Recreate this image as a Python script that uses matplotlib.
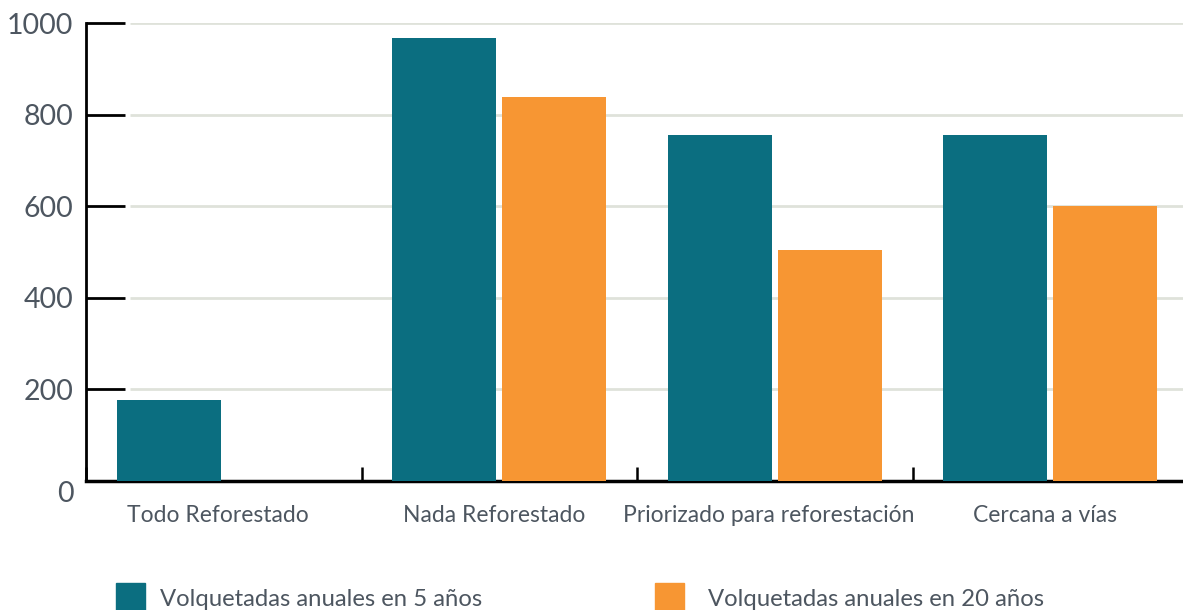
import numpy as np
import matplotlib.pyplot as plt
import matplotlib.transforms as mtransforms
from matplotlib.patches import Rectangle

categorias = ["Todo Reforestado", "Nada Reforestado",
              "Priorizado para reforestación", "Cercana a vías"]
anual_5 = [177, 967, 755, 755]
anual_20 = [0, 838, 504, 600]
serie_nombres = ["Volquetadas anuales en 5 años", "Volquetadas anuales en 20 años"]
yticks = [0, 200, 400, 600, 800, 1000]

c_teal = "#0b6e80"
c_orange = "#f79633"
c_text = "#4d5660"

plt.rcParams['font.family'] = ['Lato', 'DejaVu Sans']

W, H = 1183, 610
fig = plt.figure(figsize=(W / 100, H / 100), dpi=100)
# eje: borde izquierdo en x=86, base en y=481, tope en y=23
ax = fig.add_axes([86 / W, (H - 481) / H, 4 * 275.5 / W, (481 - 23) / H])

x = np.arange(len(categorias))
w = 0.378
gap = 0.011
ax.bar(x + 0.5 - gap - w / 2, anual_5, w, color=c_teal, zorder=3)
ax.bar(x + 0.5 + gap + w / 2, anual_20, w, color=c_orange, zorder=3)

ax.set_xlim(0, len(categorias))
ax.set_ylim(0, 1000)

for v in yticks[1:]:
    ax.hlines(v, 0.16, len(categorias), color="#dfe2da", lw=2, zorder=1)

ax.set_yticks(yticks)
ax.set_yticklabels([str(v) for v in yticks], fontsize=20.5, color=c_text)
ax.tick_params(axis="y", direction="in", length=28, width=2, pad=9, colors="black", labelcolor=c_text)
# el "0" va un poco mas abajo en el original
lbl0 = ax.get_yticklabels()[0]
lbl0.set_transform(lbl0.get_transform() + mtransforms.ScaledTranslation(0, -10 / 100, fig.dpi_scale_trans))
ax.yaxis.get_major_ticks()[0].tick1line.set_visible(False)

ax.set_xticks(x + 0.48)
ax.set_xticklabels(categorias, fontsize=16.5, color=c_text)
ax.tick_params(axis="x", length=0, pad=17)
ax.set_xticks(np.arange(len(categorias)), minor=True)
ax.tick_params(axis="x", which="minor", direction="in", length=10, width=1.8, colors="black")

for s in ["top", "right"]:
    ax.spines[s].set_visible(False)
ax.spines["left"].set_linewidth(2)
ax.spines["bottom"].set_linewidth(2.5)

# leyenda manual abajo
for (px, tx), nombre, col in zip([(116, 160), (655, 708)], serie_nombres, [c_teal, c_orange]):
    fig.add_artist(Rectangle((px / W, 0), 29 / W, (610 - 583) / H,
                             transform=fig.transFigure, color=col))
    fig.text(tx / W, (610 - 600) / H, nombre, fontsize=17.2, color=c_text, va="center")

fig.savefig("out.png", dpi=100)
